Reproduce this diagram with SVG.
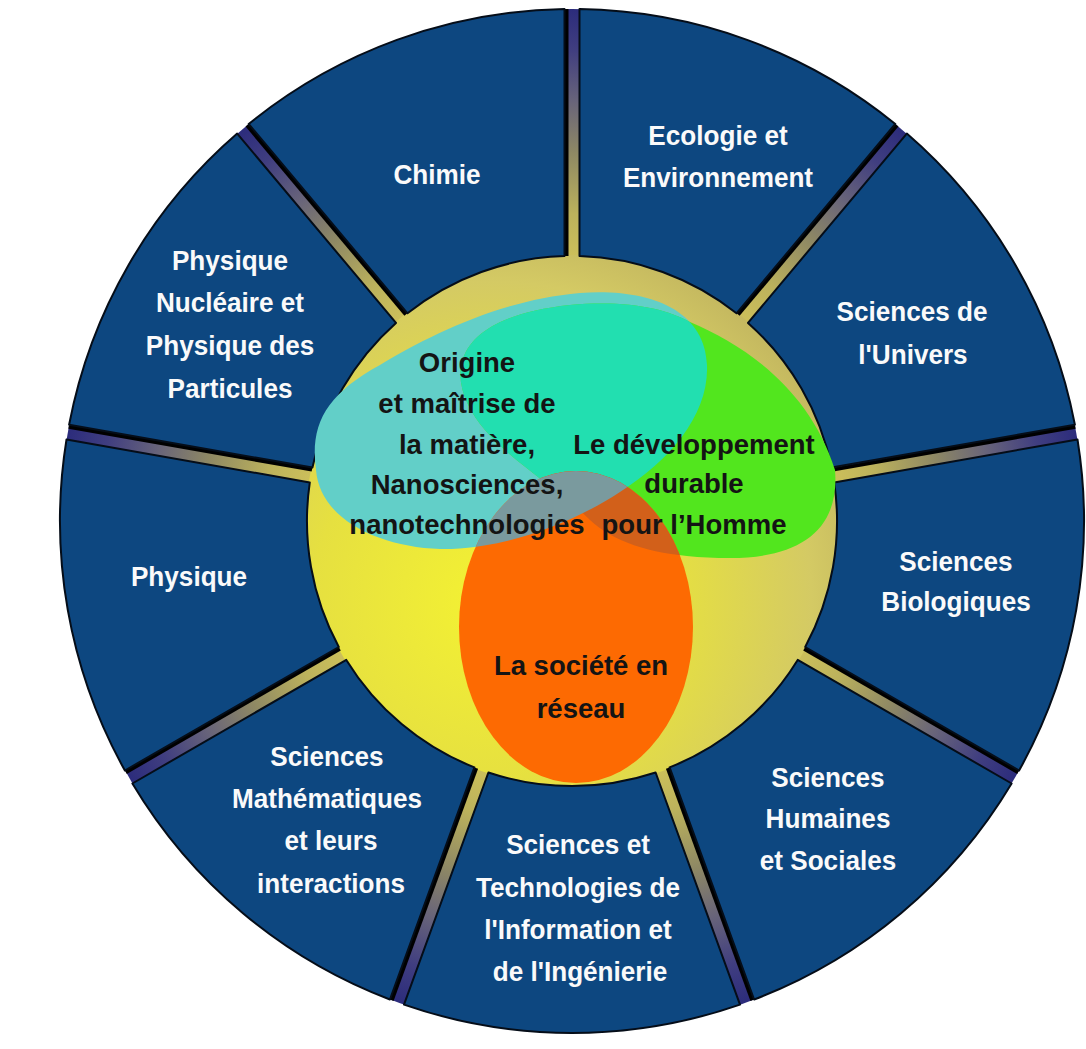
<svg xmlns="http://www.w3.org/2000/svg" width="1086" height="1049" viewBox="0 0 1086 1049">
<defs>
  <radialGradient id="spokeGrad" gradientUnits="userSpaceOnUse" cx="572" cy="521" r="512">
    <stop offset="0.5" stop-color="#cfc25a"/>
    <stop offset="0.6" stop-color="#bcb25c"/>
    <stop offset="0.72" stop-color="#8e8864"/>
    <stop offset="0.82" stop-color="#68647a"/>
    <stop offset="0.92" stop-color="#403e80"/>
    <stop offset="1" stop-color="#2c2c7c"/>
  </radialGradient>
  <radialGradient id="sphereGrad" cx="0.35" cy="0.65" r="0.75">
    <stop offset="0" stop-color="#f4f232"/>
    <stop offset="0.45" stop-color="#e6e040"/>
    <stop offset="0.8" stop-color="#d4ca64"/>
    <stop offset="1" stop-color="#bfb25e"/>
  </radialGradient>
  <path id="shapeA" d="M316,470 C310,425 325,395 380,365 C430,335 500,300 580,293 C650,288 705,310 707,365 C709,415 670,460 620,492 C570,525 500,550 440,549 C380,547 320,520 316,470 Z"/>
  <path id="shapeB" d="M462,362 C470,332 505,312 570,305 C625,300 665,308 690,322 C745,345 810,390 835,470 C840,530 800,558 730,558 C670,558 620,548 590,520 C560,490 510,460 485,430 C468,410 456,385 462,362 Z"/>
  <ellipse id="shapeC" cx="576" cy="627" rx="117" ry="156"/>
  <clipPath id="clipA"><use href="#shapeA"/></clipPath>
  <clipPath id="clipC"><use href="#shapeC"/></clipPath>
</defs>
<style>
  .seg { fill:#0d4780; stroke:#050d18; stroke-width:2; stroke-linejoin:round; }
  .edge { stroke:#000; stroke-width:4; fill:none; }
  .lbl { font-family:"Liberation Sans", Arial, sans-serif; font-weight:bold; font-size:27.5px; fill:#fafafa; text-anchor:middle; }
  .core { font-family:"Liberation Sans", Arial, sans-serif; font-weight:bold; font-size:27.5px; fill:#141414; text-anchor:middle; }
</style>
<rect width="1086" height="1049" fill="#ffffff"/>

<g id="ring-background">
  <circle cx="572" cy="521" r="512" fill="url(#spokeGrad)"/>
</g>

<g id="sphere">
  <circle cx="572" cy="521" r="266" fill="url(#sphereGrad)"/>
</g>

<g id="connectors">
  <line class="edge" x1="566.5" y1="256" x2="566.5" y2="9"/>
  <line class="edge" x1="738.1" y1="314.5" x2="896.9" y2="125.3"/>
  <line class="edge" x1="833.0" y1="469.6" x2="1075.3" y2="426.7"/>
  <line class="edge" x1="804.2" y1="648.7" x2="1018.2" y2="772.2"/>
  <line class="edge" x1="667.8" y1="768.1" x2="752.3" y2="1000.2"/>
  <line class="edge" x1="476.2" y1="768.1" x2="391.7" y2="1000.2"/>
  <line class="edge" x1="339.8" y1="648.7" x2="125.8" y2="772.2"/>
  <line class="edge" x1="312.0" y1="469.6" x2="68.7" y2="426.7"/>
  <line class="edge" x1="405.9" y1="314.5" x2="247.1" y2="125.3"/>
</g>

<g id="seg-ecologie">
  <path class="seg" d="M579.5,256.1 L579.5,9.1 A512,512 0 0 1 895.3,124.0 L736.5,313.3 A265,265 0 0 0 579.5,256.1 Z"/>
  <text class="lbl" transform="translate(718,145) scale(0.95,1)">Ecologie et</text>
  <text class="lbl" transform="translate(718,187) scale(0.95,1)">Environnement</text>
</g>
<g id="seg-univers">
  <path class="seg" d="M748.0,322.9 L906.8,133.6 A512,512 0 0 1 1074.9,424.7 L831.6,467.6 A265,265 0 0 0 748.0,322.9 Z"/>
  <text class="lbl" transform="translate(912,321) scale(0.95,1)">Sciences de</text>
  <text class="lbl" transform="translate(913,363.5) scale(0.95,1)">l'Univers</text>
</g>
<g id="seg-biologiques">
  <path class="seg" d="M834.2,482.4 L1077.5,439.5 A512,512 0 0 1 1019.1,770.5 L805.2,647.0 A265,265 0 0 0 834.2,482.4 Z"/>
  <text class="lbl" transform="translate(956,571) scale(0.95,1)">Sciences</text>
  <text class="lbl" transform="translate(956,611) scale(0.95,1)">Biologiques</text>
</g>
<g id="seg-humaines">
  <path class="seg" d="M797.7,659.9 L1011.6,783.5 A512,512 0 0 1 754.1,999.5 L669.6,767.4 A265,265 0 0 0 797.7,659.9 Z"/>
  <text class="lbl" transform="translate(828,786.5) scale(0.95,1)">Sciences</text>
  <text class="lbl" transform="translate(828,827.5) scale(0.95,1)">Humaines</text>
  <text class="lbl" transform="translate(828,869.5) scale(0.95,1)">et Sociales</text>
</g>
<g id="seg-stii">
  <path class="seg" d="M655.6,772.5 L740.0,1004.6 A512,512 0 0 1 404.0,1004.6 L488.4,772.5 A265,265 0 0 0 655.6,772.5 Z"/>
  <text class="lbl" transform="translate(578,854) scale(0.95,1)">Sciences et</text>
  <text class="lbl" transform="translate(578,896.5) scale(0.95,1)">Technologies de</text>
  <text class="lbl" transform="translate(578,939) scale(0.95,1)">l'Information et</text>
  <text class="lbl" transform="translate(580,981) scale(0.95,1)">de l'Ingénierie</text>
</g>
<g id="seg-maths">
  <path class="seg" d="M474.4,767.4 L389.9,999.5 A512,512 0 0 1 132.4,783.5 L346.3,659.9 A265,265 0 0 0 474.4,767.4 Z"/>
  <text class="lbl" transform="translate(327,766) scale(0.95,1)">Sciences</text>
  <text class="lbl" transform="translate(327,808) scale(0.95,1)">Mathématiques</text>
  <text class="lbl" transform="translate(331,850) scale(0.95,1)">et leurs</text>
  <text class="lbl" transform="translate(331,893) scale(0.95,1)">interactions</text>
</g>
<g id="seg-physique">
  <path class="seg" d="M338.8,647.0 L124.9,770.5 A512,512 0 0 1 66.5,439.5 L309.8,482.4 A265,265 0 0 0 338.8,647.0 Z"/>
  <text class="lbl" transform="translate(189,586) scale(0.95,1)">Physique</text>
</g>
<g id="seg-nucleaire">
  <path class="seg" d="M312.4,467.6 L69.1,424.7 A512,512 0 0 1 237.2,133.6 L396.0,322.9 A265,265 0 0 0 312.4,467.6 Z"/>
  <text class="lbl" transform="translate(230,270) scale(0.95,1)">Physique</text>
  <text class="lbl" transform="translate(230,312) scale(0.95,1)">Nucléaire et</text>
  <text class="lbl" transform="translate(230,355) scale(0.95,1)">Physique des</text>
  <text class="lbl" transform="translate(230,397.5) scale(0.95,1)">Particules</text>
</g>
<g id="seg-chimie">
  <path class="seg" d="M407.5,313.3 L248.7,124.0 A512,512 0 0 1 564.5,9.1 L564.5,256.1 A265,265 0 0 0 407.5,313.3 Z"/>
  <text class="lbl" transform="translate(437,183.5) scale(0.95,1)">Chimie</text>
</g>

<g id="core-areas">
  <use href="#shapeA" fill="#62cfc8"/>
  <use href="#shapeB" fill="#52e61e"/>
  <use href="#shapeB" fill="#22dfb0" clip-path="url(#clipA)"/>
  <use href="#shapeC" fill="#fd6a02"/>
  <use href="#shapeB" fill="#d2601a" clip-path="url(#clipC)"/>
  <use href="#shapeA" fill="#7a9a9e" clip-path="url(#clipC)"/>
</g>

<g id="node-matiere">
  <text class="core" x="467" y="372">Origine</text>
  <text class="core" x="467" y="413">et maîtrise de</text>
  <text class="core" x="467" y="453.5">la matière,</text>
  <text class="core" x="467" y="494">Nanosciences,</text>
  <text class="core" x="467" y="533.5">nanotechnologies</text>
</g>
<g id="node-developpement">
  <text class="core" x="694" y="453.5">Le développement</text>
  <text class="core" x="694" y="493">durable</text>
  <text class="core" x="694" y="533.5">pour l’Homme</text>
</g>
<g id="node-reseau">
  <text class="core" x="581" y="675">La société en</text>
  <text class="core" x="581" y="717.5">réseau</text>
</g>
</svg>
